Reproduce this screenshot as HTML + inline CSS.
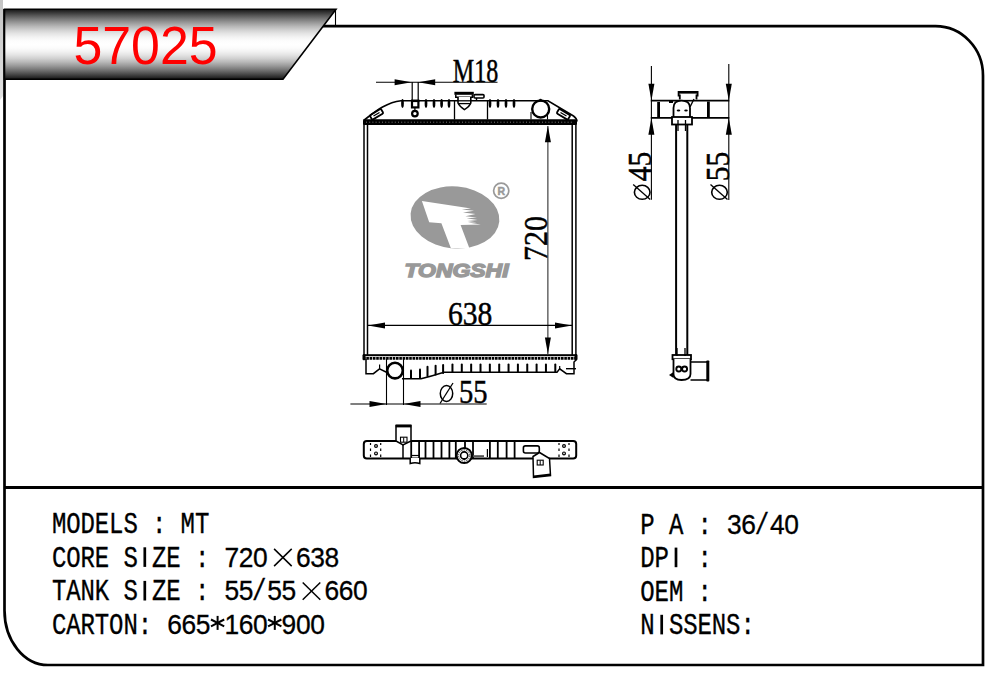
<!DOCTYPE html>
<html><head><meta charset="utf-8">
<style>
html,body{margin:0;padding:0;background:#fff;}
body{width:1003px;height:688px;position:relative;overflow:hidden;}
svg{position:absolute;left:0;top:0;}
.lt{font-family:"Liberation Mono",monospace;font-size:30px;fill:#000;stroke:#000;stroke-width:0.35px;}
.dg{font-family:"Liberation Sans",sans-serif;font-size:27.5px;fill:#000;stroke:#000;stroke-width:0.3px;}
.dm{font-family:"Liberation Serif",serif;font-size:34px;fill:#000;stroke:#000;stroke-width:0.5px;}
</style></head>
<body>
<svg width="1003" height="688" viewBox="0 0 1003 688">
  <defs>
    <linearGradient id="bg" x1="0" y1="0" x2="0" y2="1"><stop offset="0.00" stop-color="rgb(20,20,20)"/><stop offset="0.05" stop-color="rgb(57,57,57)"/><stop offset="0.10" stop-color="rgb(93,93,93)"/><stop offset="0.15" stop-color="rgb(127,127,127)"/><stop offset="0.20" stop-color="rgb(158,158,158)"/><stop offset="0.25" stop-color="rgb(186,186,186)"/><stop offset="0.30" stop-color="rgb(210,210,210)"/><stop offset="0.35" stop-color="rgb(229,229,229)"/><stop offset="0.40" stop-color="rgb(243,243,243)"/><stop offset="0.45" stop-color="rgb(252,252,252)"/><stop offset="0.50" stop-color="rgb(255,255,255)"/><stop offset="0.55" stop-color="rgb(252,252,252)"/><stop offset="0.60" stop-color="rgb(243,243,243)"/><stop offset="0.65" stop-color="rgb(229,229,229)"/><stop offset="0.70" stop-color="rgb(210,210,210)"/><stop offset="0.75" stop-color="rgb(186,186,186)"/><stop offset="0.80" stop-color="rgb(158,158,158)"/><stop offset="0.85" stop-color="rgb(127,127,127)"/><stop offset="0.90" stop-color="rgb(93,93,93)"/><stop offset="0.95" stop-color="rgb(57,57,57)"/><stop offset="1.00" stop-color="rgb(20,20,20)"/></linearGradient>
    <linearGradient id="gs" x1="0" y1="0" x2="0" y2="1">
      <stop offset="0" stop-color="#c4c4c4"/>
      <stop offset="1" stop-color="#e2e2e2"/>
    </linearGradient>
  </defs>
  <polygon points="0,0 3,0 3,96 0,100" fill="url(#gs)"/>
  <path d="M322,26.2 L935.5,26.2 A47.5,49.3 0 0 1 983,75.5 L983,665 L48,665 A43.5,54.5 0 0 1 4.5,610.5 L4.5,9" fill="none" stroke="#000" stroke-width="2.7"/>
  <polygon points="4.5,9.2 336,9.2 283,79.3 4.5,79.3" fill="url(#bg)" stroke="#000" stroke-width="1.6"/>
  <line x1="335.5" y1="9" x2="335.5" y2="26" stroke="#000" stroke-width="1.1"/>
  <line x1="4.5" y1="487.5" x2="983" y2="487.5" stroke="#000" stroke-width="2.8"/>
  <text transform="translate(73.4,63.9) scale(0.96,1)" x="0" y="0" font-family="Liberation Sans" font-size="54" fill="#ff0000">57025</text>
<line x1="364.0" y1="124" x2="364.0" y2="355.5" stroke="#000" stroke-width="1.5"/>
<line x1="367.5" y1="124" x2="367.5" y2="355.5" stroke="#000" stroke-width="1.5"/>
<line x1="572.2" y1="124" x2="572.2" y2="355.5" stroke="#000" stroke-width="1.5"/>
<line x1="575.9" y1="124" x2="575.9" y2="355.5" stroke="#000" stroke-width="1.5"/>
<rect x="363" y="119.3" width="214" height="5.8" fill="#000" rx="1.5"/>
<line x1="366" y1="122.2" x2="574" y2="122.2" stroke="#999" stroke-width="0.8" stroke-dasharray="1 2.2"/>
<path d="M363.5,120.5 C373,113.5 385,102.5 401,100.7 L548,100.7 L573.5,116 Q577,118.5 577,121.5" stroke="#000" fill="none" stroke-width="1.6"/>
<g transform="translate(376.5,114.3) rotate(-31)"><rect x="-6.5" y="-2.6" width="13" height="5.2" rx="1" stroke="#000" fill="none" stroke-width="1.8"/><line x1="-3.5" y1="0" x2="3.5" y2="0" stroke="#000" stroke-width="1.2"/></g>
<g transform="translate(563.5,114.3) rotate(31)"><rect x="-6.5" y="-2.6" width="13" height="5.2" rx="1" stroke="#000" fill="none" stroke-width="1.8"/><line x1="-3.5" y1="0" x2="3.5" y2="0" stroke="#000" stroke-width="1.2"/></g>
<ellipse cx="402.5" cy="103.5" rx="1.35" ry="4.4" fill="#000"/>
<ellipse cx="426" cy="103.5" rx="1.35" ry="4.4" fill="#000"/>
<ellipse cx="434" cy="103.5" rx="1.35" ry="4.4" fill="#000"/>
<ellipse cx="441.6" cy="103.5" rx="1.35" ry="4.4" fill="#000"/>
<ellipse cx="449" cy="103.5" rx="1.35" ry="4.4" fill="#000"/>
<ellipse cx="490" cy="103.5" rx="1.35" ry="4.4" fill="#000"/>
<ellipse cx="498" cy="103.5" rx="1.35" ry="4.4" fill="#000"/>
<ellipse cx="506" cy="103.5" rx="1.35" ry="4.4" fill="#000"/>
<ellipse cx="514" cy="103.5" rx="1.35" ry="4.4" fill="#000"/>
<line x1="412.2" y1="82" x2="412.2" y2="101" stroke="#000" stroke-width="1.2"/>
<line x1="418.2" y1="82" x2="418.2" y2="101" stroke="#000" stroke-width="1.2"/>
<rect x="412" y="101" width="6.4" height="6.4" stroke="#000" fill="none" stroke-width="2.2"/>
<rect x="411" y="99.6" width="8.4" height="2.4" fill="#000"/>
<circle cx="414.9" cy="113.6" r="2.8" stroke="#000" fill="none" stroke-width="2.2"/>
<line x1="414.9" y1="107.5" x2="414.9" y2="110.8" stroke="#000" stroke-width="1.2"/>
<line x1="454.5" y1="100" x2="454.5" y2="119.5" stroke="#000" stroke-width="1.3"/>
<line x1="487.5" y1="100" x2="487.5" y2="119.5" stroke="#000" stroke-width="1.3"/>
<rect x="454.4" y="91.8" width="19.4" height="3" fill="#000"/>
<path d="M455.8,94.5 L455.8,97.2 L472.4,97.2 L472.4,94.5" stroke="#000" fill="none" stroke-width="1.5"/>
<path d="M458,97 L458,103 Q459.5,106.5 464.4,109.6 Q469.5,106.5 470.8,103 L470.8,97" fill="#fff" stroke="#000" stroke-width="1.6"/>
<line x1="458" y1="103.6" x2="470.8" y2="103.6" stroke="#000" stroke-width="1.3"/>
<line x1="458" y1="100.8" x2="470.8" y2="100.8" stroke="#000" stroke-width="1.3"/>
<rect x="474" y="94.6" width="10" height="3.4" rx="1" stroke="#000" fill="none" stroke-width="1.6"/>
<line x1="476.5" y1="98" x2="476.5" y2="101" stroke="#000" stroke-width="1.4"/>
<circle cx="540.7" cy="109" r="8.5" stroke="#000" fill="none" stroke-width="2.4"/>
<line x1="531" y1="112" x2="531" y2="119.5" stroke="#000" stroke-width="1.1"/>
<line x1="547.5" y1="112" x2="547.5" y2="119.5" stroke="#000" stroke-width="1.1"/>
<circle cx="540.5" cy="100" r="1.3" fill="#000"/>
<rect x="363" y="354.2" width="214" height="2" fill="#000"/>
<line x1="363" y1="358.4" x2="577" y2="358.4" stroke="#000" stroke-width="2.6" stroke-dasharray="2.6 0.7"/>
<rect x="362.5" y="354.2" width="3" height="6" rx="1.2" fill="#000"/><rect x="574.5" y="354.2" width="3" height="6" rx="1.2" fill="#000"/>
<path d="M366,359 L366,373.7 L373.4,373.7 L379.5,368.8 L387,372.5" stroke="#000" fill="none" stroke-width="1.5"/>
<line x1="379.6" y1="364.5" x2="379.6" y2="369" stroke="#000" stroke-width="1.2"/>
<circle cx="395" cy="370.6" r="7.8" stroke="#000" fill="none" stroke-width="2.6"/>
<path d="M402,378.7 L421,378.7 Q432,376 444,372.2 L557,372.2 L559.7,368.8 L566.4,373.7 L574,373.7 L574,362 L576.5,359.5" stroke="#000" fill="none" stroke-width="1.5"/>
<line x1="566" y1="368.7" x2="576" y2="368.7" stroke="#000" stroke-width="1.4"/>
<line x1="559.7" y1="366" x2="559.7" y2="369" stroke="#000" stroke-width="1.2"/>
<rect x="410" y="369.5" width="2" height="9.5" rx="1" fill="#000"/>
<rect x="419" y="368.6" width="2" height="10.4" rx="1" fill="#000"/>
<rect x="426.5" y="365.7" width="2" height="11.4" rx="1" fill="#000"/>
<rect x="434.6" y="364.8" width="2" height="10.7" rx="1" fill="#000"/>
<rect x="442.1" y="363.9" width="2" height="10.0" rx="1" fill="#000"/>
<rect x="451.45000000000005" y="363.5" width="2" height="9.5" rx="1" fill="#000"/>
<rect x="460.8" y="363.5" width="2" height="9.5" rx="1" fill="#000"/>
<rect x="470.15000000000003" y="363.5" width="2" height="9.5" rx="1" fill="#000"/>
<rect x="479.5" y="363.5" width="2" height="9.5" rx="1" fill="#000"/>
<rect x="488.85" y="363.5" width="2" height="9.5" rx="1" fill="#000"/>
<rect x="498.20000000000005" y="363.5" width="2" height="9.5" rx="1" fill="#000"/>
<rect x="507.55" y="363.5" width="2" height="9.5" rx="1" fill="#000"/>
<rect x="516.9" y="363.5" width="2" height="9.5" rx="1" fill="#000"/>
<rect x="526.25" y="363.5" width="2" height="9.5" rx="1" fill="#000"/>
<rect x="535.6" y="363.5" width="2" height="9.5" rx="1" fill="#000"/>
<rect x="544.95" y="363.5" width="2" height="9.5" rx="1" fill="#000"/>
<rect x="554.3" y="363.5" width="2" height="9.5" rx="1" fill="#000"/>
<line x1="386.5" y1="359" x2="386.5" y2="405" stroke="#000" stroke-width="1.1"/>
<line x1="403.5" y1="359" x2="403.5" y2="405" stroke="#000" stroke-width="1.1"/>
<line x1="376" y1="82.2" x2="497.5" y2="82.2" stroke="#000" stroke-width="1.1"/>
<polygon points="411.6,82.2 394.60,85.20 394.60,79.20" fill="#000"/>
<polygon points="418.2,82.2 435.20,79.20 435.20,85.20" fill="#000"/>
<text class="dm" transform="translate(453.5,81.9) scale(0.71,1)" x="-1" y="0">M18</text>
<line x1="547.9" y1="126" x2="547.9" y2="354" stroke="#000" stroke-width="0.9"/>
<polygon points="547.9,125.8 550.90,142.30 544.90,142.30" fill="#000"/>
<polygon points="547.9,354 544.90,337.50 550.90,337.50" fill="#000"/>
<text class="dm" transform="translate(547.3,261) rotate(-90) scale(0.88,1)" x="0" y="0">720</text>
<line x1="368" y1="325.4" x2="572" y2="325.4" stroke="#000" stroke-width="1.1"/>
<polygon points="368,325.4 385.00,322.40 385.00,328.40" fill="#000"/>
<polygon points="572,325.4 555.00,328.40 555.00,322.40" fill="#000"/>
<text class="dm" transform="translate(448,325) scale(0.87,1)" x="0" y="0">638</text>
<line x1="350.4" y1="404" x2="486.7" y2="404" stroke="#000" stroke-width="1.1"/>
<polygon points="386.5,404 369.50,407.00 369.50,401.00" fill="#000"/>
<polygon points="403.5,404 420.50,401.00 420.50,407.00" fill="#000"/>
<text class="dm" transform="translate(459,402.5) scale(0.84,1)" x="0" y="0">55</text>
<ellipse cx="446.5" cy="393.5" rx="6.2" ry="8" stroke="#000" fill="none" stroke-width="1.5"/>
<line x1="440" y1="403.5" x2="453" y2="383" stroke="#000" stroke-width="1.3"/>
<g transform="rotate(5 455 217)"><ellipse cx="455" cy="217.5" rx="44.5" ry="31" fill="#999"/></g>
<path d="M421.9,201 L461.4,207 L471,208.6 L461.8,209.4 L474,210.8 L463,212.6 L475.5,214 L465.4,216.2 L477,217.4 L466.6,218.2 L477.6,220 L467.4,221 L476.5,222.2 L468,222.6 L480.8,224.5 L460.6,225 L469.5,248.5 L451,248.5 L441.4,223.2 L429.2,222.3 Z" fill="#fff"/>
<circle cx="501.2" cy="190.8" r="7.6" fill="none" stroke="#999" stroke-width="1.7"/>
<text x="501.4" y="194.6" text-anchor="middle" font-family="Liberation Sans" font-size="10.5" font-weight="bold" fill="#999" stroke="#999" stroke-width="0.5">R</text>
<text x="404.5" y="277.2" font-family="Liberation Sans" font-size="18.6" font-weight="bold" font-style="italic" fill="#999" stroke="#999" stroke-width="1.4" stroke-linejoin="miter" textLength="104" lengthAdjust="spacingAndGlyphs">TONGSHI</text>
<line x1="651.4" y1="66" x2="651.4" y2="199.8" stroke="#000" stroke-width="1.1"/>
<line x1="728.8" y1="64" x2="728.8" y2="200" stroke="#000" stroke-width="1.1"/>
<polygon points="651.4,100.7 648.40,83.70 654.40,83.70" fill="#000"/>
<polygon points="651.4,117.8 654.40,134.80 648.40,134.80" fill="#000"/>
<polygon points="728.8,100.7 725.80,83.70 731.80,83.70" fill="#000"/>
<polygon points="728.8,117.8 731.80,134.80 725.80,134.80" fill="#000"/>
<path d="M650.8,100.7 L729.3,100.7 M650.8,117.8 L729.3,117.8" stroke="#000" fill="none" stroke-width="1.8"/>
<rect x="657.2" y="102" width="2.8" height="15" fill="#000"/>
<rect x="707" y="101.5" width="2.8" height="15.5" fill="#000"/>
<path d="M679.8,99.5 L679.8,95.5 L678.6,95.5 L678.6,92 L697.6,92 L697.6,95.5 L696.5,95.5 L696.5,99.5" fill="#fff" stroke="#000" stroke-width="1.8"/>
<rect x="678.6" y="91.2" width="19" height="2.4" fill="#000"/>
<path d="M673.5,117 L673.5,108 Q673.5,100.7 681.5,100.7 Q690,100.7 690,108 L690,117" fill="#fff" stroke="#000" stroke-width="1.8"/>
<rect x="672" y="117" width="20" height="7.5" fill="#fff" stroke="#000" stroke-width="1.8"/>
<ellipse cx="678.5" cy="110.5" rx="1.8" ry="1.1" fill="#000"/><ellipse cx="686" cy="110.5" rx="1.8" ry="1.1" fill="#000"/>
<line x1="690" y1="107" x2="694" y2="99" stroke="#000" stroke-width="1.4"/>
<rect x="669" y="100" width="4" height="3" fill="#000"/>
<line x1="676.1" y1="124" x2="676.1" y2="355" stroke="#000" stroke-width="2.0"/>
<line x1="687.3" y1="124" x2="687.3" y2="355" stroke="#000" stroke-width="2.0"/>
<line x1="678" y1="120" x2="678" y2="131" stroke="#000" stroke-width="1.3"/>
<line x1="685.5" y1="120" x2="685.5" y2="131" stroke="#000" stroke-width="1.3"/>
<rect x="672.5" y="355" width="18.5" height="4.2" fill="#fff" stroke="#000" stroke-width="1.8"/>
<path d="M673.5,359 L673.5,374 Q673.5,380 681.5,380 Q690.5,380 690.5,374 L690.5,359" fill="#fff" stroke="#000" stroke-width="1.8"/>
<circle cx="678.8" cy="369" r="2.5" stroke="#000" fill="none" stroke-width="1.9"/><circle cx="684.6" cy="369" r="2.5" stroke="#000" fill="none" stroke-width="1.9"/>
<line x1="677" y1="348" x2="677" y2="356" stroke="#000" stroke-width="1.3"/>
<line x1="685" y1="348" x2="685" y2="356" stroke="#000" stroke-width="1.3"/>
<path d="M690.5,362 L708,362 M690.5,380 L708,380" stroke="#000" stroke-width="1.6"/>
<rect x="706.3" y="360.5" width="3" height="21" rx="0.8" fill="#000"/>
<path d="M669,375 L673.5,372 L673.5,378 Z" fill="#000"/>
<g transform="translate(651.2,199.5) rotate(-90)"><text class="dm" transform="translate(18.3,0) scale(0.87,1)" x="0" y="0">45</text><ellipse cx="7.2" cy="-9" rx="7" ry="7.8" fill="none" stroke="#000" stroke-width="1.6"/><line x1="0" y1="-1" x2="15" y2="-18" stroke="#000" stroke-width="1.3"/></g>
<g transform="translate(728.5,199.5) rotate(-90)"><text class="dm" transform="translate(18.3,0) scale(0.87,1)" x="0" y="0">55</text><ellipse cx="7.2" cy="-9" rx="7" ry="7.8" fill="none" stroke="#000" stroke-width="1.6"/><line x1="0" y1="-1" x2="15" y2="-18" stroke="#000" stroke-width="1.3"/></g>
<rect x="363.8" y="441" width="212.4" height="17.4" rx="3" stroke="#000" fill="none" stroke-width="2"/>
<circle cx="376" cy="446" r="1.4" stroke="#000" fill="none" stroke-width="1.2"/>
<circle cx="376" cy="453.4" r="1.4" stroke="#000" fill="none" stroke-width="1.2"/>
<circle cx="564" cy="446" r="1.4" stroke="#000" fill="none" stroke-width="1.2"/>
<circle cx="564" cy="453.4" r="1.4" stroke="#000" fill="none" stroke-width="1.2"/>
<line x1="370.5" y1="443" x2="370.5" y2="445" stroke="#000" stroke-width="1.2"/>
<line x1="370.5" y1="448.5" x2="370.5" y2="451" stroke="#000" stroke-width="1.2"/>
<line x1="370.5" y1="454.5" x2="370.5" y2="457" stroke="#000" stroke-width="1.2"/>
<line x1="380.7" y1="443" x2="380.7" y2="445" stroke="#000" stroke-width="1.2"/>
<line x1="380.7" y1="448.5" x2="380.7" y2="451" stroke="#000" stroke-width="1.2"/>
<line x1="380.7" y1="454.5" x2="380.7" y2="457" stroke="#000" stroke-width="1.2"/>
<line x1="559" y1="443" x2="559" y2="445" stroke="#000" stroke-width="1.2"/>
<line x1="559" y1="448.5" x2="559" y2="451" stroke="#000" stroke-width="1.2"/>
<line x1="559" y1="454.5" x2="559" y2="457" stroke="#000" stroke-width="1.2"/>
<line x1="569" y1="443" x2="569" y2="445" stroke="#000" stroke-width="1.2"/>
<line x1="569" y1="448.5" x2="569" y2="451" stroke="#000" stroke-width="1.2"/>
<line x1="569" y1="454.5" x2="569" y2="457" stroke="#000" stroke-width="1.2"/>
<path d="M396,441 L396,425.5 L411,425.5 L411,441 L403,445 Z" fill="#fff" stroke="#000" stroke-width="1.5"/>
<rect x="395.8" y="424.6" width="15.5" height="2.8" fill="#000"/>
<rect x="400.5" y="437.2" width="6.5" height="5" stroke="#000" fill="none" stroke-width="1.1"/>
<line x1="403.7" y1="437.5" x2="403.7" y2="442" stroke="#000" stroke-width="1"/>
<line x1="403" y1="445" x2="403" y2="458" stroke="#000" stroke-width="1.5"/>
<line x1="411.2" y1="441.5" x2="411.2" y2="458" stroke="#000" stroke-width="1.8"/>
<line x1="419.1" y1="441.5" x2="419.1" y2="458" stroke="#000" stroke-width="1.8"/>
<line x1="425.5" y1="441.5" x2="425.5" y2="458" stroke="#000" stroke-width="1.8"/>
<line x1="433.5" y1="441.5" x2="433.5" y2="458" stroke="#000" stroke-width="1.8"/>
<line x1="441.5" y1="441.5" x2="441.5" y2="458" stroke="#000" stroke-width="1.8"/>
<line x1="449.4" y1="441.5" x2="449.4" y2="458" stroke="#000" stroke-width="1.8"/>
<line x1="455.8" y1="441.5" x2="455.8" y2="458" stroke="#000" stroke-width="1.8"/>
<line x1="465" y1="441.5" x2="465" y2="458" stroke="#000" stroke-width="1.8"/>
<line x1="473" y1="441.5" x2="473" y2="458" stroke="#000" stroke-width="1.8"/>
<line x1="489.9" y1="441.5" x2="489.9" y2="458" stroke="#000" stroke-width="1.8"/>
<line x1="497.8" y1="441.5" x2="497.8" y2="458" stroke="#000" stroke-width="1.8"/>
<line x1="506.6" y1="441.5" x2="506.6" y2="458" stroke="#000" stroke-width="1.8"/>
<line x1="514.6" y1="441.5" x2="514.6" y2="458" stroke="#000" stroke-width="1.8"/>
<line x1="487.4" y1="449" x2="487.4" y2="457" stroke="#000" stroke-width="1.2"/>
<rect x="473" y="455.2" width="11" height="1.8" fill="#555"/>
<path d="M410.2,458 L410.2,463.5 Q415,461.8 419.8,463.5 L419.8,458" fill="#fff" stroke="#000" stroke-width="1.5"/>
<line x1="411" y1="455.5" x2="419" y2="455.5" stroke="#000" stroke-width="1.2"/>
<circle cx="464.2" cy="455.5" r="7.6" fill="#fff" stroke="#000" stroke-width="2"/>
<circle cx="464.2" cy="455.5" r="5.6" stroke="#000" fill="none" stroke-width="0.8" stroke-dasharray="1.5 1"/>
<circle cx="464.2" cy="455.5" r="3.6" stroke="#000" fill="none" stroke-width="1.6"/>
<path d="M461.5,458 L467,458 L464.2,460 Z" fill="#000"/>
<rect x="523.4" y="445.9" width="15.9" height="7.1" rx="2" stroke="#000" fill="none" stroke-width="1.6"/>
<path d="M533,456.5 L539.5,452.5 L549.5,458.5 L550.5,475.5 L533.5,477.5 Z" fill="#fff" stroke="#000" stroke-width="1.5"/>
<path d="M533.5,477.5 L550.5,475.5 L550.5,473.5 L533.5,475.5 Z" fill="#000"/>
<rect x="537.2" y="460.2" width="6" height="4.8" stroke="#000" fill="none" stroke-width="1.1"/>
<line x1="540.2" y1="460.5" x2="540.2" y2="465" stroke="#000" stroke-width="1"/>
<text class="lt" x="64.88" y="533" transform="scale(0.8,1)">M</text>
<text class="lt" x="82.75" y="533" transform="scale(0.8,1)">O</text>
<text class="lt" x="100.62" y="533" transform="scale(0.8,1)">D</text>
<text class="lt" x="118.50" y="533" transform="scale(0.8,1)">E</text>
<text class="lt" x="136.38" y="533" transform="scale(0.8,1)">L</text>
<text class="lt" x="154.25" y="533" transform="scale(0.8,1)">S</text>
<text class="lt" x="190.00" y="533" transform="scale(0.8,1)">:</text>
<text class="lt" x="225.75" y="533" transform="scale(0.8,1)">M</text>
<text class="lt" x="243.62" y="533" transform="scale(0.8,1)">T</text>
<text class="lt" x="64.88" y="566.9" transform="scale(0.8,1)">C</text>
<text class="lt" x="82.75" y="566.9" transform="scale(0.8,1)">O</text>
<text class="lt" x="100.62" y="566.9" transform="scale(0.8,1)">R</text>
<text class="lt" x="118.50" y="566.9" transform="scale(0.8,1)">E</text>
<text class="lt" x="154.25" y="566.9" transform="scale(0.8,1)">S</text>
<rect x="143.45" y="547.3" width="2.7" height="19.6" fill="#000"/>
<text class="lt" x="190.00" y="566.9" transform="scale(0.8,1)">Z</text>
<text class="lt" x="207.88" y="566.9" transform="scale(0.8,1)">E</text>
<text class="lt" x="243.62" y="566.9" transform="scale(0.8,1)">:</text>
<text class="dg" x="233.75" y="566.9" transform="scale(0.96,1)">7</text>
<text class="dg" x="248.65" y="566.9" transform="scale(0.96,1)">2</text>
<text class="dg" x="263.54" y="566.9" transform="scale(0.96,1)">0</text>
<g stroke="#000" stroke-width="1.5"><line x1="274.1" y1="548.9" x2="291.7" y2="566.1"/><line x1="291.7" y1="548.9" x2="274.1" y2="566.1"/></g>
<text class="dg" x="308.23" y="566.9" transform="scale(0.96,1)">6</text>
<text class="dg" x="323.13" y="566.9" transform="scale(0.96,1)">3</text>
<text class="dg" x="338.02" y="566.9" transform="scale(0.96,1)">8</text>
<text class="lt" x="64.88" y="600.5" transform="scale(0.8,1)">T</text>
<text class="lt" x="82.75" y="600.5" transform="scale(0.8,1)">A</text>
<text class="lt" x="100.62" y="600.5" transform="scale(0.8,1)">N</text>
<text class="lt" x="118.50" y="600.5" transform="scale(0.8,1)">K</text>
<text class="lt" x="154.25" y="600.5" transform="scale(0.8,1)">S</text>
<rect x="143.45" y="580.9" width="2.7" height="19.6" fill="#000"/>
<text class="lt" x="190.00" y="600.5" transform="scale(0.8,1)">Z</text>
<text class="lt" x="207.88" y="600.5" transform="scale(0.8,1)">E</text>
<text class="lt" x="243.62" y="600.5" transform="scale(0.8,1)">:</text>
<text class="dg" x="233.75" y="600.5" transform="scale(0.96,1)">5</text>
<text class="dg" x="248.65" y="600.5" transform="scale(0.96,1)">5</text>
<text class="lt" x="315.12" y="600.5" transform="scale(0.8,1)">/</text>
<text class="dg" x="278.44" y="600.5" transform="scale(0.96,1)">5</text>
<text class="dg" x="293.33" y="600.5" transform="scale(0.96,1)">5</text>
<g stroke="#000" stroke-width="1.5"><line x1="302.7" y1="582.5" x2="320.3" y2="599.7"/><line x1="320.3" y1="582.5" x2="302.7" y2="599.7"/></g>
<text class="dg" x="338.02" y="600.5" transform="scale(0.96,1)">6</text>
<text class="dg" x="352.92" y="600.5" transform="scale(0.96,1)">6</text>
<text class="dg" x="367.81" y="600.5" transform="scale(0.96,1)">0</text>
<text class="lt" x="64.88" y="634.3" transform="scale(0.8,1)">C</text>
<text class="lt" x="82.75" y="634.3" transform="scale(0.8,1)">A</text>
<text class="lt" x="100.62" y="634.3" transform="scale(0.8,1)">R</text>
<text class="lt" x="118.50" y="634.3" transform="scale(0.8,1)">T</text>
<text class="lt" x="136.38" y="634.3" transform="scale(0.8,1)">O</text>
<text class="lt" x="154.25" y="634.3" transform="scale(0.8,1)">N</text>
<text class="lt" x="172.12" y="634.3" transform="scale(0.8,1)">:</text>
<text class="dg" x="174.17" y="634.3" transform="scale(0.96,1)">6</text>
<text class="dg" x="189.06" y="634.3" transform="scale(0.96,1)">6</text>
<text class="dg" x="203.96" y="634.3" transform="scale(0.96,1)">5</text>
<g stroke="#000" stroke-width="2"><line x1="217.6" y1="615.9" x2="217.6" y2="629.9"/><line x1="211.0" y1="619.5" x2="224.2" y2="626.3"/><line x1="211.0" y1="626.3" x2="224.2" y2="619.5"/></g>
<text class="dg" x="233.75" y="634.3" transform="scale(0.96,1)">1</text>
<text class="dg" x="248.65" y="634.3" transform="scale(0.96,1)">6</text>
<text class="dg" x="263.54" y="634.3" transform="scale(0.96,1)">0</text>
<g stroke="#000" stroke-width="2"><line x1="274.8" y1="615.9" x2="274.8" y2="629.9"/><line x1="268.1" y1="619.5" x2="281.4" y2="626.3"/><line x1="268.1" y1="626.3" x2="281.4" y2="619.5"/></g>
<text class="dg" x="293.33" y="634.3" transform="scale(0.96,1)">9</text>
<text class="dg" x="308.23" y="634.3" transform="scale(0.96,1)">0</text>
<text class="dg" x="323.13" y="634.3" transform="scale(0.96,1)">0</text>
<text class="lt" x="800.37" y="533.6" transform="scale(0.8,1)">P</text>
<text class="lt" x="836.12" y="533.6" transform="scale(0.8,1)">A</text>
<text class="lt" x="871.88" y="533.6" transform="scale(0.8,1)">:</text>
<text class="dg" x="757.29" y="533.6" transform="scale(0.96,1)">3</text>
<text class="dg" x="772.19" y="533.6" transform="scale(0.96,1)">6</text>
<text class="lt" x="943.37" y="533.6" transform="scale(0.8,1)">/</text>
<text class="dg" x="801.98" y="533.6" transform="scale(0.96,1)">4</text>
<text class="dg" x="816.88" y="533.6" transform="scale(0.96,1)">0</text>
<text class="lt" x="800.37" y="567.2" transform="scale(0.8,1)">D</text>
<text class="lt" x="818.25" y="567.2" transform="scale(0.8,1)">P</text>
<rect x="674.65" y="547.6" width="2.7" height="19.6" fill="#000"/>
<text class="lt" x="871.88" y="567.2" transform="scale(0.8,1)">:</text>
<text class="lt" x="800.37" y="600.8" transform="scale(0.8,1)">O</text>
<text class="lt" x="818.25" y="600.8" transform="scale(0.8,1)">E</text>
<text class="lt" x="836.12" y="600.8" transform="scale(0.8,1)">M</text>
<text class="lt" x="871.88" y="600.8" transform="scale(0.8,1)">:</text>
<text class="lt" x="800.37" y="634.4" transform="scale(0.8,1)">N</text>
<rect x="660.35" y="614.8" width="2.7" height="19.6" fill="#000"/>
<text class="lt" x="836.12" y="634.4" transform="scale(0.8,1)">S</text>
<text class="lt" x="854.00" y="634.4" transform="scale(0.8,1)">S</text>
<text class="lt" x="871.88" y="634.4" transform="scale(0.8,1)">E</text>
<text class="lt" x="889.75" y="634.4" transform="scale(0.8,1)">N</text>
<text class="lt" x="907.62" y="634.4" transform="scale(0.8,1)">S</text>
<text class="lt" x="925.50" y="634.4" transform="scale(0.8,1)">:</text>
</svg>
</body></html>
